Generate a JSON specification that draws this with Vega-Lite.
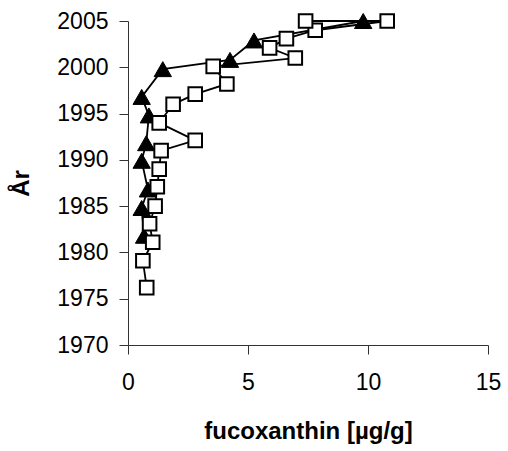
{
  "$schema": "https://vega.github.io/schema/vega-lite/v6.json",
  "width": 360,
  "height": 324,
  "autosize": {"type": "none"},
  "padding": {"left": 128, "top": 21, "right": 20, "bottom": 106},
  "background": "white",
  "config": {
    "view": {"stroke": null},
    "axis": {
      "grid": false,
      "labelFont": "Liberation Sans",
      "labelFontSize": 23,
      "labelColor": "#000000",
      "titleFont": "Liberation Sans",
      "titleFontSize": 24,
      "titleFontWeight": "bold",
      "titleColor": "#000000",
      "domainColor": "#333333",
      "tickColor": "#333333",
      "domainWidth": 1,
      "tickWidth": 1,
      "tickSize": 9,
      "labelOverlap": false
    }
  },
  "data": {
    "values": [
      {"s": "A", "o": 1, "year": 1976.2, "v": 0.78},
      {"s": "A", "o": 2, "year": 1979.1, "v": 0.62},
      {"s": "A", "o": 3, "year": 1981.1, "v": 1.03},
      {"s": "A", "o": 4, "year": 1983.1, "v": 0.9},
      {"s": "A", "o": 5, "year": 1985.0, "v": 1.13},
      {"s": "A", "o": 6, "year": 1987.1, "v": 1.22},
      {"s": "A", "o": 7, "year": 1989.0, "v": 1.3},
      {"s": "A", "o": 8, "year": 1991.0, "v": 1.38},
      {"s": "A", "o": 9, "year": 1992.1, "v": 2.8},
      {"s": "A", "o": 10, "year": 1994.0, "v": 1.3},
      {"s": "A", "o": 11, "year": 1996.0, "v": 1.88},
      {"s": "A", "o": 12, "year": 1997.1, "v": 2.8},
      {"s": "A", "o": 13, "year": 1998.2, "v": 4.12},
      {"s": "A", "o": 14, "year": 2000.1, "v": 3.55},
      {"s": "A", "o": 15, "year": 2001.0, "v": 6.97},
      {"s": "A", "o": 16, "year": 2002.1, "v": 5.9},
      {"s": "A", "o": 17, "year": 2003.1, "v": 6.6},
      {"s": "A", "o": 18, "year": 2004.0, "v": 7.8},
      {"s": "A", "o": 19, "year": 2005.0, "v": 10.8},
      {"s": "A", "o": 20, "year": 2005.0, "v": 7.4},
      {"s": "B", "o": 1, "year": 1981.8, "v": 0.67},
      {"s": "B", "o": 2, "year": 1984.8, "v": 0.57},
      {"s": "B", "o": 3, "year": 1986.8, "v": 0.83},
      {"s": "B", "o": 4, "year": 1989.9, "v": 0.57},
      {"s": "B", "o": 5, "year": 1991.8, "v": 0.76},
      {"s": "B", "o": 6, "year": 1994.8, "v": 0.87},
      {"s": "B", "o": 7, "year": 1996.8, "v": 0.57},
      {"s": "B", "o": 8, "year": 1999.8, "v": 1.45},
      {"s": "B", "o": 9, "year": 2000.8, "v": 4.25},
      {"s": "B", "o": 10, "year": 2002.9, "v": 5.25},
      {"s": "B", "o": 11, "year": 2005.0, "v": 9.8}
    ]
  },
  "encoding": {
    "x": {
      "field": "v", "type": "quantitative",
      "scale": {"domain": [0, 15], "nice": false, "zero": false},
      "axis": {
        "title": "fucoxanthin [µg/g]",
        "values": [0, 5, 10, 15],
        "labelFlush": false,
        "labelPadding": 17,
        "titleBaseline": "alphabetic",
        "titleY": 93,
        "titleX": 180
      }
    },
    "y": {
      "field": "year", "type": "quantitative",
      "scale": {"domain": [1970, 2005], "nice": false, "zero": false},
      "axis": {
        "title": "År",
        "values": [1970, 1975, 1980, 1985, 1990, 1995, 2000, 2005],
        "format": "d",
        "labelPadding": 11,
        "titleX": -95,
        "titleY": 162
      }
    }
  },
  "layer": [
    {
      "transform": [{"filter": "datum.s === 'B'"}],
      "mark": {"type": "line", "color": "#000000", "strokeWidth": 1.8},
      "encoding": {"order": {"field": "o", "type": "quantitative"}}
    },
    {
      "transform": [{"filter": "datum.s === 'B'"}],
      "mark": {"type": "point", "shape": "triangle-up", "filled": true, "fill": "#000000", "stroke": "#000000", "strokeWidth": 1, "size": 300, "opacity": 1}
    },
    {
      "transform": [{"filter": "datum.s === 'A'"}],
      "mark": {"type": "line", "color": "#000000", "strokeWidth": 1.8},
      "encoding": {"order": {"field": "o", "type": "quantitative"}}
    },
    {
      "transform": [{"filter": "datum.s === 'A'"}],
      "mark": {"type": "point", "shape": "square", "filled": true, "fill": "#ffffff", "stroke": "#000000", "strokeWidth": 2, "size": 185, "opacity": 1}
    }
  ]
}
